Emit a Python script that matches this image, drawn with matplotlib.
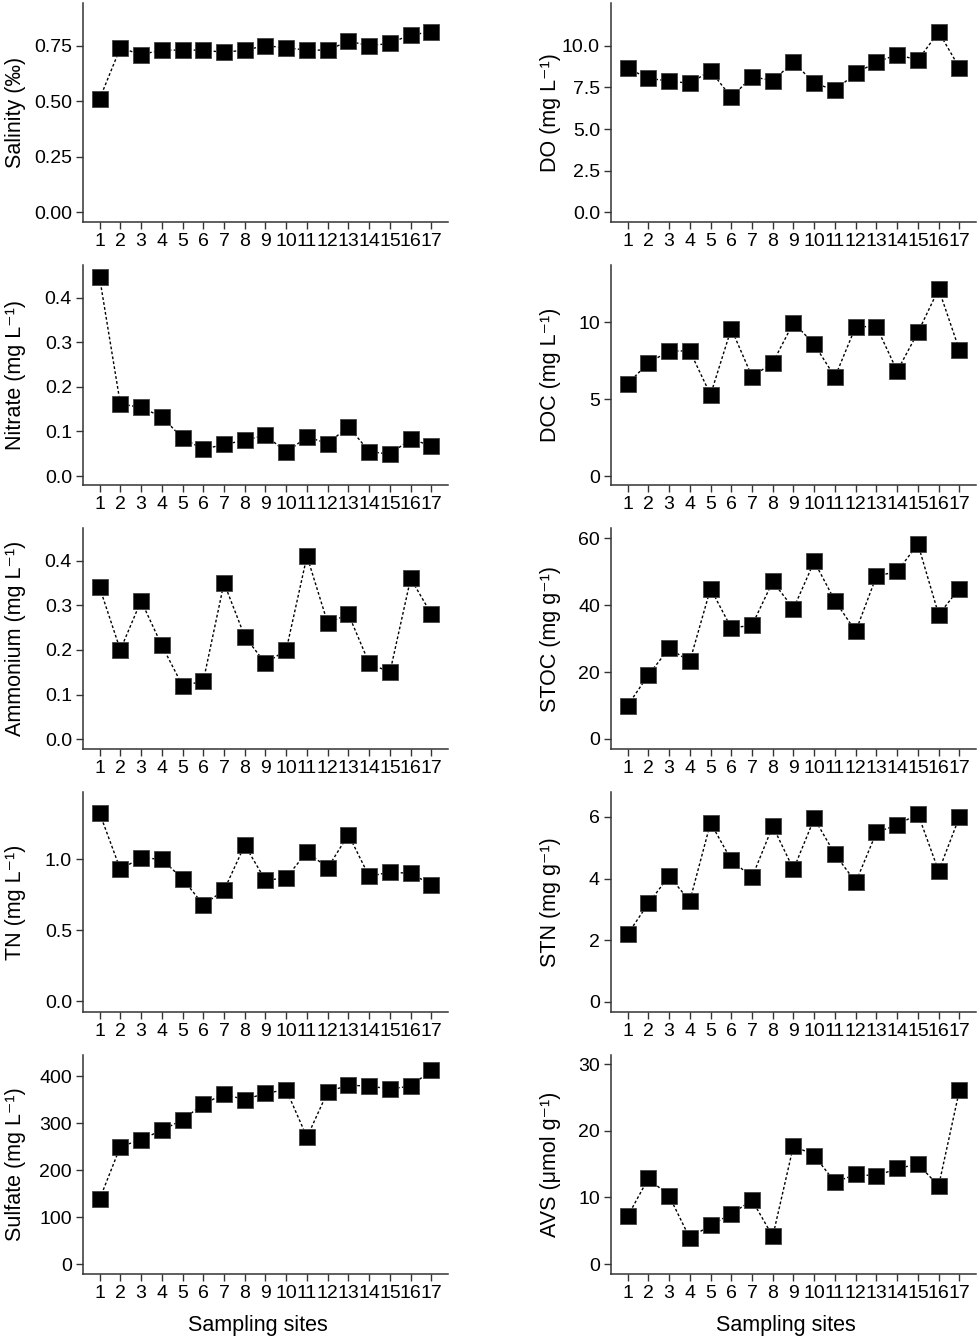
import matplotlib
matplotlib.use("Agg")
import matplotlib.pyplot as plt
import numpy as np

plt.rcParams['font.family'] = ['Liberation Sans', 'DejaVu Sans']

sites = list(range(1, 18))

salinity = [0.51, 0.74, 0.71, 0.73, 0.73, 0.73, 0.72, 0.73, 0.75, 0.74, 0.73, 0.73, 0.77, 0.75, 0.76, 0.80, 0.81]
do = [8.64, 8.04, 7.88, 7.74, 8.50, 6.90, 8.14, 7.90, 9.02, 7.74, 7.34, 8.34, 9.02, 9.46, 9.14, 10.82, 8.68]
nitrate = [0.446, 0.162, 0.154, 0.133, 0.085, 0.060, 0.071, 0.080, 0.092, 0.053, 0.088, 0.073, 0.111, 0.055, 0.049, 0.083, 0.068]
doc = [5.99, 7.34, 8.12, 8.12, 5.28, 9.57, 6.45, 7.36, 9.96, 8.55, 6.43, 9.70, 9.70, 6.82, 9.33, 12.14, 8.18]
ammonium = [0.34, 0.20, 0.31, 0.21, 0.12, 0.13, 0.35, 0.23, 0.17, 0.20, 0.41, 0.26, 0.28, 0.17, 0.15, 0.36, 0.28]
stoc = [10.0, 19.1, 27.1, 23.2, 45.0, 33.2, 34.0, 47.1, 39.0, 53.1, 41.3, 32.2, 48.7, 50.1, 58.3, 37.2, 45.0]
tn = [1.326, 0.93, 1.012, 1.0, 0.864, 0.681, 0.782, 1.101, 0.852, 0.871, 1.052, 0.941, 1.174, 0.88, 0.911, 0.901, 0.822]
stn = [2.19, 3.19, 4.08, 3.27, 5.81, 4.60, 4.04, 5.70, 4.30, 5.95, 4.79, 3.88, 5.50, 5.74, 6.10, 4.24, 6.00]
sulfate = [138, 250, 265, 285, 307, 341, 362, 350, 364, 371, 270, 367, 381, 379, 373, 379, 413]
avs = [7.15, 12.85, 10.25, 3.9, 5.85, 7.5, 9.6, 4.15, 17.8, 16.3, 12.3, 13.45, 13.25, 14.35, 15.0, 11.75, 26.1]

panels = [
    (salinity, 'Salinity (‰)', [0, 0.25, 0.5, 0.75], ['0.00', '0.25', '0.50', '0.75'], (-0.0437, 0.942)),
    (do, 'DO (mg L⁻¹)', [0, 2.5, 5, 7.5, 10], ['0.0', '2.5', '5.0', '7.5', '10.0'], (-0.58, 12.56)),
    (nitrate, 'Nitrate (mg L⁻¹)', [0, 0.1, 0.2, 0.3, 0.4], ['0.0', '0.1', '0.2', '0.3', '0.4'], (-0.0202, 0.474)),
    (doc, 'DOC (mg L⁻¹)', [0, 5, 10], ['0', '5', '10'], (-0.58, 13.70)),
    (ammonium, 'Ammonium (mg L⁻¹)', [0, 0.1, 0.2, 0.3, 0.4], ['0.0', '0.1', '0.2', '0.3', '0.4'], (-0.0218, 0.473)),
    (stoc, 'STOC (mg g⁻¹)', [0, 20, 40, 60], ['0', '20', '40', '60'], (-3.0, 63.1)),
    (tn, 'TN (mg L⁻¹)', [0, 0.5, 1.0], ['0.0', '0.5', '1.0'], (-0.074, 1.474)),
    (stn, 'STN (mg g⁻¹)', [0, 2, 4, 6], ['0', '2', '4', '6'], (-0.334, 6.81)),
    (sulfate, 'Sulfate (mg L⁻¹)', [0, 100, 200, 300, 400], ['0', '100', '200', '300', '400'], (-21.3, 445.3)),
    (avs, 'AVS (μmol g⁻¹)', [0, 10, 20, 30], ['0', '10', '20', '30'], (-1.5, 31.4)),
]

W, H = 978, 1339
fig = plt.figure(figsize=(W / 100, H / 100), dpi=100)

col_left = [83, 611]
col_width = 365
rows = [(3, 222), (265, 485), (528, 749), (792, 1012), (1055, 1274)]
ylab_x = [(26 - 83) / 365, (561 - 611) / 365]

for i, (vals, ylabel, yticks, yticklabels, ylim) in enumerate(panels):
    r, c = divmod(i, 2)
    top, bot = rows[r]
    ax = fig.add_axes([col_left[c] / W, 1 - bot / H, col_width / W, (bot - top) / H])
    ax.plot(sites, vals, color='black', linestyle=(0, (2.0, 1.6)), linewidth=1.0, zorder=1)
    ax.plot(sites, vals, linestyle='none', marker='s', markersize=11,
            markerfacecolor='black', markeredgecolor='#444444', markeredgewidth=0.6, zorder=2)
    ax.set_xlim(0.2, 17.8)
    ax.set_ylim(*ylim)
    ax.set_xticks(sites)
    ax.set_xticklabels([str(s) for s in sites])
    ax.set_yticks(yticks)
    ax.set_yticklabels(yticklabels)
    for side in ['top', 'right']:
        ax.spines[side].set_visible(False)
    for side in ['left', 'bottom']:
        ax.spines[side].set_color('#333333')
        ax.spines[side].set_linewidth(1.1)
    ax.tick_params(axis='both', direction='out', length=5, width=1.0, color='#333333',
                   labelsize=14, labelcolor='black', pad=3)
    ax.set_ylabel(ylabel, fontsize=15.5)
    ax.yaxis.set_label_coords(ylab_x[c], 0.5)
    if r == 4:
        ax.set_xlabel('Sampling sites', fontsize=15.5)
        ax.xaxis.set_label_coords(0.479, -0.233)
        ax.xaxis.label.set_va('center')

fig.savefig('out.png', dpi=100)
